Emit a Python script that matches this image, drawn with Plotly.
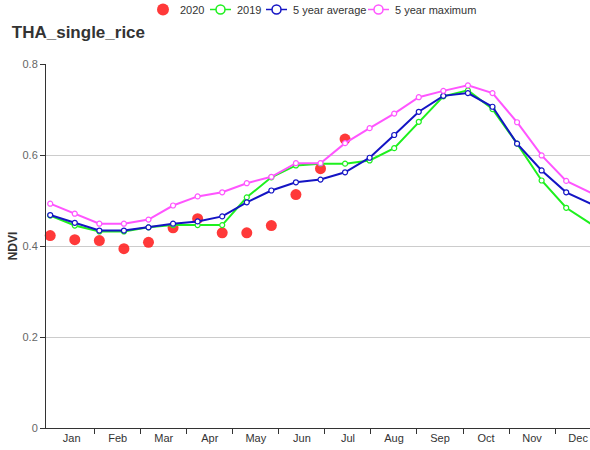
import plotly.graph_objects as go

# 16-day composite periods (day of year of each composite start)
doy = [1, 17, 33, 49, 65, 81, 97, 113, 129, 145, 161, 177, 193,
       209, 225, 241, 257, 273, 289, 305, 321, 337, 353]

months = ["Jan", "Feb", "Mar", "Apr", "May", "Jun",
          "Jul", "Aug", "Sep", "Oct", "Nov", "Dec"]

ndvi_2020 = [0.423, 0.414, 0.412, 0.394, 0.408, 0.440, 0.460, 0.429,
             0.429, 0.445, 0.513, 0.570, 0.635]

ndvi_2019 = [0.467, 0.445, 0.432, 0.432, 0.441, 0.446, 0.446, 0.446,
             0.507, 0.551, 0.577, 0.581, 0.581, 0.588, 0.615, 0.673,
             0.729, 0.742, 0.701, 0.625, 0.544, 0.484, 0.449]

ndvi_avg5 = [0.468, 0.451, 0.434, 0.434, 0.441, 0.449, 0.454, 0.465,
             0.496, 0.522, 0.540, 0.546, 0.562, 0.594, 0.644, 0.695,
             0.730, 0.736, 0.706, 0.625, 0.566, 0.518, 0.493]

ndvi_max5 = [0.493, 0.471, 0.449, 0.449, 0.458, 0.489, 0.509, 0.518,
             0.538, 0.552, 0.582, 0.582, 0.626, 0.659, 0.691, 0.727,
             0.741, 0.753, 0.736, 0.672, 0.599, 0.543, 0.517]

# x axis runs in days; each month slot is an equal share of the axis
month_len = 29.98
FONT = "Liberation Sans, Arial, sans-serif"

W, H = 590, 450
ML, MR, MT, MB = 46, 0, 64, 22
PW, PH = W - ML - MR, H - MT - MB

RED = "rgba(255,35,35,0.9)"
GREEN = "#1ef01e"
BLUE = "#1414c4"
PINK = "#ff55ff"

fig = go.Figure()

fig.add_trace(go.Scatter(
    x=doy[:len(ndvi_2020)], y=ndvi_2020, name="2020", mode="markers",
    marker=dict(color=RED, size=11, line=dict(width=0)),
    cliponaxis=False,
))

line_series = [
    ("2019", ndvi_2019, GREEN),
    ("5 year average", ndvi_avg5, BLUE),
    ("5 year maximum", ndvi_max5, PINK),
]
for name, vals, col in line_series:
    fig.add_trace(go.Scatter(
        x=doy, y=vals, name=name, mode="lines+markers",
        line=dict(color=col, width=2),
        marker=dict(symbol="circle", size=5, color="white",
                    line=dict(color=col, width=1.2)),
        cliponaxis=False,
    ))


# compact legend row along the top edge, placed in pixel units
def px_x(px):
    return (px - ML) / PW


def px_y(py):
    return (H - MB - py) / PH


shapes, annotations = [], []
legend_y = 9.5
# filled dot for the 2020 series
shapes.append(dict(type="circle", xref="paper", yref="paper",
                   x0=px_x(157), x1=px_x(169),
                   y0=px_y(legend_y + 6), y1=px_y(legend_y - 6),
                   fillcolor=RED, line=dict(width=0)))
annotations.append(dict(text="2020", xref="paper", yref="paper",
                        x=px_x(178), y=px_y(legend_y), xanchor="left",
                        yanchor="middle", showarrow=False,
                        font=dict(size=11, color="#333")))
# line-with-circle keys for the line series
legend_keys = [(line_series[0], 210, 235), (line_series[1], 266, 291),
               (line_series[2], 368, 393)]
for (name, _, col), lx, tx in legend_keys:
    shapes.append(dict(type="line", xref="paper", yref="paper",
                       x0=px_x(lx), x1=px_x(lx + 21),
                       y0=px_y(legend_y), y1=px_y(legend_y),
                       line=dict(color=col, width=1.5)))
    cx = lx + 10.5
    shapes.append(dict(type="circle", xref="paper", yref="paper",
                       x0=px_x(cx - 4.5), x1=px_x(cx + 4.5),
                       y0=px_y(legend_y + 4.5), y1=px_y(legend_y - 4.5),
                       fillcolor="white", line=dict(color=col, width=1.5)))
    annotations.append(dict(text=name, xref="paper", yref="paper",
                            x=px_x(tx), y=px_y(legend_y), xanchor="left",
                            yanchor="middle", showarrow=False,
                            font=dict(size=11, color="#333")))

fig.update_layout(
    width=W, height=H,
    margin=dict(l=ML, r=MR, t=MT, b=MB),
    paper_bgcolor="white", plot_bgcolor="white",
    font=dict(family=FONT, color="#666"),
    title=dict(text="<b>THA_single_rice</b>", x=0.02, xanchor="left",
               y=0.928, yanchor="middle",
               font=dict(size=17, color="#333", family=FONT)),
    showlegend=False,
    shapes=shapes,
    annotations=annotations,
)

fig.update_xaxes(
    range=[-1.74, 352.5],
    tickmode="array",
    tickvals=[(i + 0.5) * month_len for i in range(12)],
    ticktext=months,
    ticks="", showgrid=False, zeroline=False,
    showline=True, linecolor="#333", linewidth=1,
    tickfont=dict(size=11, color="#333"),
    minor=dict(tickmode="array",
               tickvals=[k * month_len for k in range(1, 12)],
               ticks="outside", ticklen=5, tickcolor="#333", showgrid=False),
)

fig.update_yaxes(
    range=[0, 0.8], tickvals=[0, 0.2, 0.4, 0.6, 0.8],
    ticktext=["0", "0.2", "0.4", "0.6", "0.8"],
    ticks="outside", ticklen=5, tickcolor="#333",
    showgrid=True, gridcolor="#ccc", gridwidth=1, zeroline=False,
    showline=True, linecolor="#333", linewidth=1,
    tickfont=dict(size=11, color="#666"),
    title=dict(text="<b>NDVI</b>", font=dict(size=12, color="#333"), standoff=2),
)

fig.write_html("out.html")
